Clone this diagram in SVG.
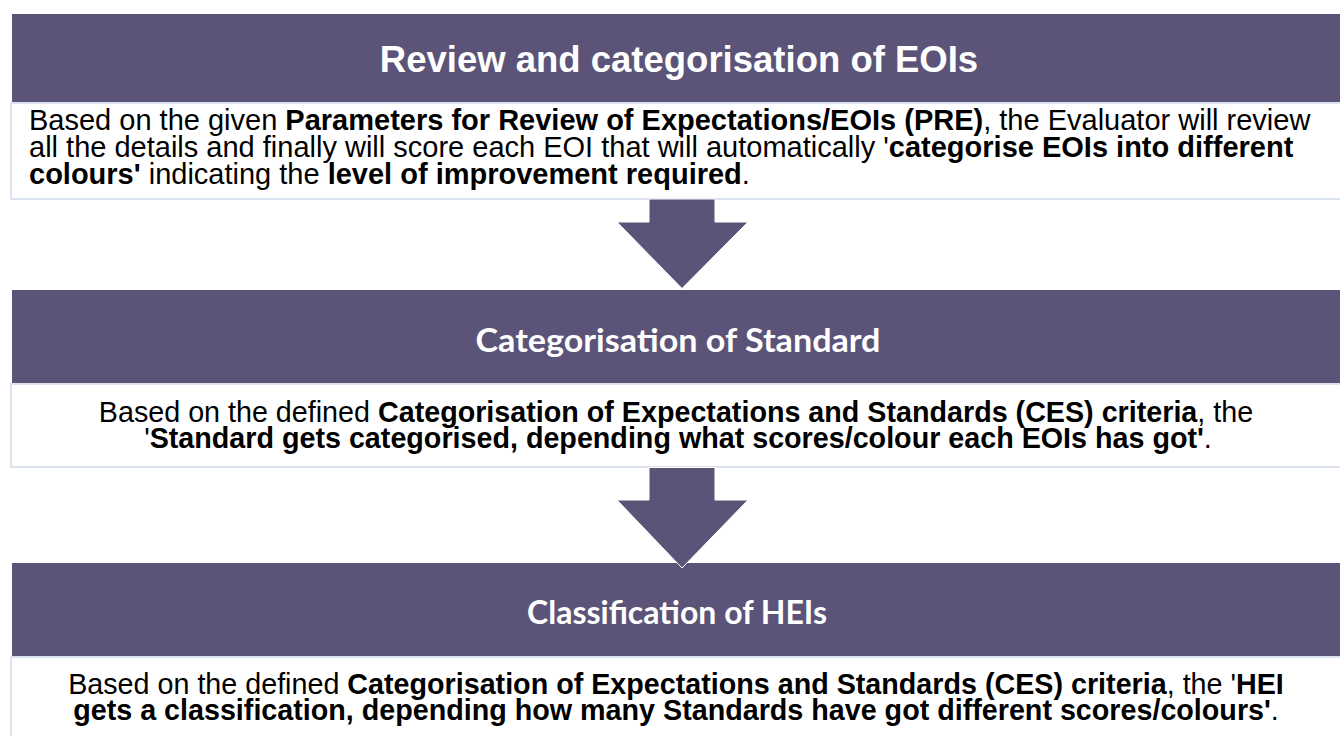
<svg xmlns="http://www.w3.org/2000/svg" width="1340" height="736" viewBox="0 0 1340 736">
<style>
.hdr{fill:#5B5478;}
.bodybox{fill:#FFFFFF;stroke:#D3DDEC;stroke-width:1.6;}
.t1{font-family:"Liberation Sans",Arial,sans-serif;font-weight:bold;font-size:36.5px;fill:#FFFFFF;text-anchor:middle;}
.t2{font-family:Lato,"Open Sans",sans-serif;font-weight:bold;font-size:32px;fill:#FFFFFF;text-anchor:middle;}
.body{font-family:"Liberation Sans",Arial,sans-serif;font-size:29px;fill:#000000;}
.c{text-anchor:middle;font-size:28.7px;}
.b{font-weight:bold;}
.arrow{fill:#5B5478;stroke:#FFFFFF;stroke-width:1;}
</style>
<rect x="0" y="0" width="1340" height="736" fill="#FFFFFF"/>

<g id="node-review">
<rect class="hdr" x="12" y="14" width="1330" height="88"/>
<text class="t1" x="679" y="72">Review and categorisation of EOIs</text>
<rect class="bodybox" x="11" y="103" width="1340" height="96"/>
<text class="body" x="29" y="130">Based on the given <tspan class="b">Parameters for Review of Expectations/EOIs (PRE)</tspan>, the Evaluator will review</text>
<text class="body" x="29" y="157">all the details and finally will score each EOI that will automatically '<tspan class="b">categorise EOIs into different</tspan></text>
<text class="body" x="29" y="184"><tspan class="b">colours'</tspan> indicating the <tspan class="b">level of improvement required</tspan>.</text>
</g>

<g id="node-standard">
<rect class="hdr" x="12" y="290" width="1330" height="93"/>
<text class="t2" x="678" y="352" textLength="405" lengthAdjust="spacingAndGlyphs">Categorisation of Standard</text>
<rect class="bodybox" x="11" y="384" width="1340" height="83"/>
<text class="body c" x="676" y="422">Based on the defined <tspan class="b">Categorisation of Expectations and Standards (CES) criteria</tspan>, the</text>
<text class="body c" x="678" y="448">'<tspan class="b">Standard gets categorised, depending what scores/colour each EOIs has got'</tspan>.</text>
</g>

<g id="node-hei">
<rect class="hdr" x="12" y="563" width="1330" height="93"/>
<text class="t2" x="677" y="624" textLength="300" lengthAdjust="spacingAndGlyphs">Classification of HEIs</text>
<rect class="bodybox" x="11" y="657" width="1340" height="100"/>
<text class="body c" x="676" y="694">Based on the defined <tspan class="b">Categorisation of Expectations and Standards (CES) criteria</tspan>, the '<tspan class="b">HEI</tspan></text>
<text class="body c" x="676" y="720"><tspan class="b">gets a classification, depending how many Standards have got different scores/colours'</tspan>.</text>
</g>

<g id="connectors">
<polygon id="arrow-1" class="arrow" points="649,199 715,199 715,222 748,222 682,288.5 617,222 649,222"/>
<polygon id="arrow-2" class="arrow" points="649,467.5 715,467.5 715,500 748,500 682,568 617,500 649,500"/>
</g>
</svg>
